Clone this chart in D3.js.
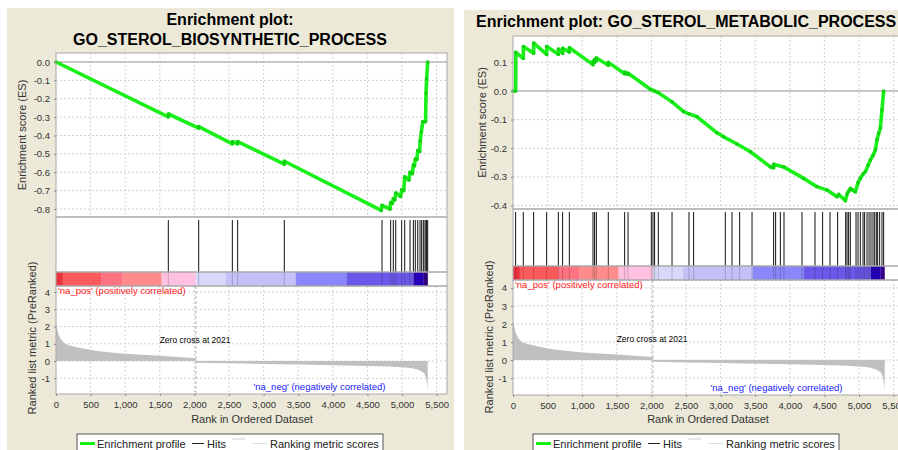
<!DOCTYPE html>
<html>
<head>
<meta charset="utf-8">
<script src="https://cdn.jsdelivr.net/npm/d3@7"></script>
<style>
  body { margin: 0; background: #fff; overflow: hidden; }
  svg { display: block; font-family: "Liberation Sans", Arial, sans-serif; }
</style>
</head>
<body>
<script>
// ranked list shared by both plots
const rankTicks = [0, 500, 1000, 1500, 2000, 2500, 3000, 3500, 4000, 4500, 5000, 5500];
const metricTicks = [-1, 0, 1, 2, 3, 4];
const zeroCross = 2021;
const metricPoints = [
  [0, 2.2], [15, 1.9], [40, 1.5], [80, 1.2], [130, 1.0], [200, 0.9], [300, 0.8], [450, 0.68],
  [600, 0.58], [800, 0.5], [1000, 0.42], [1250, 0.36], [1500, 0.3], [1750, 0.24], [2000, 0.17],
  [2021, 0.15], [2022, -0.1], [2500, -0.13], [3000, -0.17], [3500, -0.2], [4000, -0.24],
  [4500, -0.28], [4800, -0.32], [5000, -0.36], [5150, -0.42], [5250, -0.52], [5320, -0.7],
  [5350, -1.0], [5365, -1.4], [5372, -1.75]
];
const colorBands = [
  [0, 100, "#e8323c"], [100, 650, "#ff5a5a"], [650, 965, "#ff7282"], [965, 1527, "#ff8c8c"],
  [1527, 2020, "#ffc0e2"], [2020, 2455, "#d8d8fa"], [2455, 3462, "#c4c0f8"], [3462, 4195, "#8888fa"],
  [4195, 5170, "#6a58ea"], [5170, 5315, "#2a00c8"], [5315, 5372, "#3c0096"]
];

// GO_STEROL_BIOSYNTHETIC_PROCESS
const bioTicks = [0, -0.1, -0.2, -0.3, -0.4, -0.5, -0.6, -0.7, -0.8];
const bioHits = [1623, 2062, 2548, 2625, 3299, 4711, 4836, 4874, 4909, 4995, 5039, 5116, 5164,
  5192, 5227, 5260, 5284, 5308, 5332, 5347, 5356, 5371];
const bioES = [
  [0, 0], [1623, -0.298], [1624, -0.283], [2062, -0.36], [2063, -0.352], [2548, -0.445],
  [2549, -0.433], [2625, -0.445], [2626, -0.433], [3299, -0.556], [3300, -0.54], [4700, -0.808],
  [4711, -0.78], [4826, -0.8], [4836, -0.765], [4860, -0.77], [4874, -0.745], [4895, -0.75],
  [4909, -0.713], [4980, -0.732], [4995, -0.695], [5025, -0.7], [5039, -0.625], [5100, -0.642],
  [5116, -0.6], [5150, -0.607], [5164, -0.56], [5180, -0.565], [5192, -0.528], [5215, -0.53],
  [5227, -0.482], [5255, -0.487], [5262, -0.43], [5280, -0.38], [5300, -0.325], [5340, -0.325],
  [5347, -0.17], [5356, -0.09], [5371, 0]
];

// GO_STEROL_METABOLIC_PROCESS
const metTicks = [0.1, 0, -0.1, -0.2, -0.3, -0.4];
const metHits = [38, 149, 298, 486, 655, 717, 814, 1156, 1179, 1204, 1377, 1613, 1662, 1999, 2023,
  2046, 2100, 2298, 2543, 2610, 3068, 3165, 3275, 3454, 3766, 3795, 3863, 3916, 4176, 4364, 4474,
  4581, 4691, 4807, 4827, 4850, 4874, 4957, 4986, 5019, 5058, 5081, 5116, 5145, 5173, 5202, 5226,
  5250, 5269, 5298, 5332, 5356];
const metES = [
  [0, 0], [38, 0], [40, 0.135], [149, 0.114], [150, 0.155], [298, 0.132], [299, 0.167],
  [486, 0.128], [487, 0.155], [655, 0.128], [656, 0.146], [717, 0.132], [718, 0.149],
  [814, 0.136], [815, 0.151], [1156, 0.092], [1157, 0.104], [1179, 0.1], [1180, 0.11],
  [1204, 0.106], [1205, 0.115], [1377, 0.09], [1378, 0.1], [1613, 0.06], [1614, 0.066],
  [1662, 0.058], [1663, 0.062], [1985, 0.006], [2046, 0.0], [2100, -0.006], [2298, -0.038],
  [2466, -0.072], [2543, -0.08], [2659, -0.09], [2948, -0.146], [3044, -0.16], [3237, -0.185],
  [3430, -0.212], [3719, -0.265], [3766, -0.268], [3767, -0.256], [3911, -0.265], [4200, -0.305],
  [4393, -0.334], [4538, -0.346], [4682, -0.369], [4706, -0.361], [4803, -0.383], [4827, -0.36],
  [4850, -0.35], [4875, -0.34], [4900, -0.345], [4947, -0.352], [4986, -0.32], [5019, -0.305],
  [5058, -0.29], [5092, -0.282], [5130, -0.26], [5164, -0.241], [5202, -0.225], [5236, -0.206],
  [5260, -0.17], [5284, -0.148], [5308, -0.13], [5332, -0.066], [5356, 0]
];

const W = 898, H = 450;
const svg = d3.select("body").append("svg").attr("width", W).attr("height", H);

const beige = "#ece9d8";
const gridColor = "#d2d2d2";
const tickFont = 9.5;

function drawPanel(p) {
  const g = svg.append("g");
  g.append("rect").attr("x", p.bx).attr("y", p.by).attr("width", p.bw).attr("height", H - p.by).attr("fill", beige);

  const x = d3.scaleLinear().domain([0, 5650]).range([p.left, p.right]);
  const yES = d3.scaleLinear().domain(p.esDomain).range([p.esBottom, p.esTop]);
  const yM = d3.scaleLinear().domain(p.mDomain).range([p.mBottom, p.barBottom]);

  const boxes = [[p.esTop, p.esBottom], [p.esBottom, p.hitsBottom], [p.hitsBottom, p.barBottom], [p.barBottom, p.mBottom]];
  boxes.forEach(r => g.append("rect").attr("x", p.left).attr("y", r[0]).attr("width", p.right - p.left)
    .attr("height", r[1] - r[0]).attr("fill", "#fff"));

  // grid
  const grid = g.append("g").attr("stroke", gridColor).attr("stroke-dasharray", "2,2").attr("stroke-width", 1);
  rankTicks.slice(1).forEach(t => {
    grid.append("line").attr("x1", x(t)).attr("x2", x(t)).attr("y1", p.esTop).attr("y2", p.esBottom);
    grid.append("line").attr("x1", x(t)).attr("x2", x(t)).attr("y1", p.barBottom).attr("y2", p.mBottom);
  });
  p.esTicks.forEach(t => grid.append("line").attr("x1", p.left).attr("x2", p.right).attr("y1", yES(t)).attr("y2", yES(t)));
  metricTicks.forEach(t => grid.append("line").attr("x1", p.left).attr("x2", p.right).attr("y1", yM(t)).attr("y2", yM(t)));

  g.append("line").attr("x1", p.left).attr("x2", p.right).attr("y1", yES(0)).attr("y2", yES(0))
    .attr("stroke", "#9a9a9a").attr("stroke-width", 1);

  // ES profile
  g.append("path").datum(p.es)
    .attr("fill", "none").attr("stroke", "#19f019").attr("stroke-width", 3.6).attr("stroke-linejoin", "round")
    .attr("d", d3.line().x(d => x(d[0])).y(d => yES(d[1])));
  g.selectAll(null).data(p.es).enter().append("rect")
    .attr("x", d => x(d[0]) - 1.5).attr("y", d => yES(d[1]) - 1.5).attr("width", 3).attr("height", 3)
    .attr("fill", "#10d010");

  // color bar
  g.selectAll(null).data(colorBands).enter().append("rect")
    .attr("x", d => x(d[0])).attr("width", d => x(d[1]) - x(d[0]))
    .attr("y", p.hitsBottom).attr("height", p.barBottom - p.hitsBottom)
    .attr("fill", d => d[2]);

  // hits
  g.selectAll(null).data(p.hits).enter().append("line")
    .attr("x1", d => x(d)).attr("x2", d => x(d)).attr("y1", p.esBottom + 3).attr("y2", p.hitsBottom)
    .attr("stroke", "#111").attr("stroke-width", 1);
  g.selectAll(null).data(p.hits).enter().append("line")
    .attr("x1", d => x(d)).attr("x2", d => x(d)).attr("y1", p.hitsBottom).attr("y2", p.barBottom)
    .attr("stroke", "#000").attr("stroke-opacity", 0.2).attr("stroke-width", 1);

  // ranking metric
  g.append("path").datum(metricPoints)
    .attr("fill", "#c0c0c0")
    .attr("d", d3.area().x(d => x(d[0])).y0(yM(0)).y1(d => yM(d[1])));
  g.append("line").attr("x1", x(zeroCross)).attr("x2", x(zeroCross)).attr("y1", p.barBottom).attr("y2", p.mBottom)
    .attr("stroke", "#b4b4b4").attr("stroke-dasharray", "3,2");

  // panel borders
  boxes.forEach(r => g.append("rect").attr("x", p.left).attr("y", r[0]).attr("width", p.right - p.left)
    .attr("height", r[1] - r[0]).attr("fill", "none").attr("stroke", "#a8a8a8"));

  // axes
  const styleAxis = a => {
    a.select(".domain").remove();
    a.selectAll("line").attr("stroke", "#888");
    a.selectAll("text").attr("font-size", tickFont).attr("fill", "#333").attr("font-family", "Liberation Sans, Arial, sans-serif");
  };
  g.append("g").attr("transform", `translate(0,${p.mBottom})`)
    .call(d3.axisBottom(x).tickValues(rankTicks).tickSize(2).tickPadding(5).tickFormat(d3.format(",")))
    .call(styleAxis);
  g.append("g").attr("transform", `translate(${p.left},0)`)
    .call(d3.axisLeft(yES).tickValues(p.esTicks).tickSize(2).tickPadding(4).tickFormat(d => d.toFixed(1)))
    .call(styleAxis);
  g.append("g").attr("transform", `translate(${p.left},0)`)
    .call(d3.axisLeft(yM).tickValues(metricTicks).tickSize(2).tickPadding(4).tickFormat(d => String(d)))
    .call(styleAxis);

  // labels
  g.append("text").attr("x", p.left + 2).attr("y", p.barBottom + 8)
    .attr("font-size", 9.5).attr("fill", "#ff2020").text("'na_pos' (positively correlated)");
  g.append("text").attr("x", x(4760)).attr("y", p.mBottom - 4).attr("text-anchor", "end")
    .attr("font-size", 9.5).attr("fill", "#2020ff").text("'na_neg' (negatively correlated)");
  g.append("text").attr("x", x(2010)).attr("y", yM(0) - 18).attr("text-anchor", "middle")
    .attr("font-size", 8.5).attr("fill", "#000").text("Zero cross at " + zeroCross);

  g.append("text").attr("transform", `translate(${p.esLabelX},${(p.esTop + p.esBottom) / 2}) rotate(-90)`)
    .attr("text-anchor", "middle").attr("font-size", 11).attr("fill", "#333").text("Enrichment score (ES)");
  g.append("text").attr("transform", `translate(${p.mLabelX},${p.mLabelY}) rotate(-90)`)
    .attr("text-anchor", "middle").attr("font-size", 11).attr("fill", "#333").text("Ranked list metric (PreRanked)");
  g.append("text").attr("x", p.xLabelX).attr("y", 423).attr("text-anchor", "middle")
    .attr("font-size", 11).attr("fill", "#333").text("Rank in Ordered Dataset");

  // title
  p.title.forEach(t => g.append("text").attr("x", t.x).attr("y", t.y).attr("text-anchor", t.anchor)
    .attr("font-size", 16).attr("font-weight", "bold").attr("fill", "#000").text(t.text));

  // legend
  const lg = g.append("g").attr("transform", `translate(${p.legendX},434)`);
  lg.append("rect").attr("width", 306).attr("height", 22).attr("fill", "#fff").attr("stroke", "#555");
  lg.append("line").attr("x1", 3).attr("x2", 18).attr("y1", 9.5).attr("y2", 9.5).attr("stroke", "#19f019").attr("stroke-width", 3);
  lg.append("text").attr("x", 20).attr("y", 13.5).attr("font-size", 11).attr("fill", "#222").text("Enrichment profile");
  lg.append("line").attr("x1", 115).attr("x2", 127).attr("y1", 9.5).attr("y2", 9.5).attr("stroke", "#222");
  lg.append("text").attr("x", 130).attr("y", 13.5).attr("font-size", 11).attr("fill", "#222").text("Hits");
  lg.append("line").attr("x1", 155).attr("x2", 168).attr("y1", 5).attr("y2", 5).attr("stroke", "#ccc");
  lg.append("line").attr("x1", 176).attr("x2", 190).attr("y1", 9.5).attr("y2", 9.5).attr("stroke", "#ddd");
  lg.append("text").attr("x", 193).attr("y", 13.5).attr("font-size", 11).attr("fill", "#222").text("Ranking metric scores");
}

drawPanel({
  bx: 7, by: 8, bw: 447,
  left: 56, right: 447,
  esTop: 53, esBottom: 217, hitsBottom: 272, barBottom: 286, mBottom: 394,
  esDomain: [-0.8435, 0.049], mDomain: [-1.91, 4.35],
  esTicks: bioTicks, hits: bioHits, es: bioES,
  esLabelX: 26, mLabelX: 36, mLabelY: 338, xLabelX: 252, legendX: 77,
  title: [
    { text: "Enrichment plot:", x: 230, y: 25, anchor: "middle" },
    { text: "GO_STEROL_BIOSYNTHETIC_PROCESS", x: 230, y: 45, anchor: "middle" }
  ]
});

drawPanel({
  bx: 464, by: 10, bw: 434,
  left: 513, right: 904,
  esTop: 36, esBottom: 209, hitsBottom: 266, barBottom: 280, mBottom: 395,
  esDomain: [-0.412, 0.192], mDomain: [-1.94, 4.44],
  esTicks: metTicks, hits: metHits, es: metES,
  esLabelX: 486, mLabelX: 493, mLabelY: 337, xLabelX: 708, legendX: 533,
  title: [
    { text: "Enrichment plot: GO_STEROL_METABOLIC_PROCESS", x: 476, y: 27, anchor: "start" }
  ]
});
</script>
</body>
</html>
